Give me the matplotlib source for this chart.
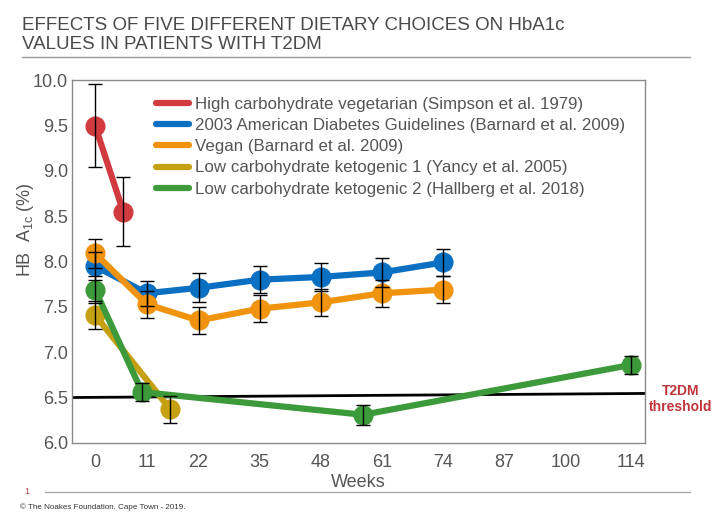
import matplotlib.pyplot as plt
import matplotlib.lines as mlines
import numpy as np

plt.rcParams['font.family'] = ['Liberation Sans', 'DejaVu Sans']

# series: weeks, HbA1c (%), error
veg_weeks = [0, 6]
veg_vals = [9.50, 8.55]
veg_err = [0.46, 0.38]

ada_weeks = [0, 11, 22, 35, 48, 61, 74]
ada_vals = [7.95, 7.65, 7.71, 7.80, 7.83, 7.88, 7.99]
ada_err = [0.15, 0.14, 0.16, 0.15, 0.15, 0.16, 0.15]

vegan_weeks = [0, 11, 22, 35, 48, 61, 74]
vegan_vals = [8.09, 7.53, 7.35, 7.48, 7.55, 7.65, 7.69]
vegan_err = [0.16, 0.15, 0.15, 0.15, 0.15, 0.15, 0.15]

keto1_weeks = [0, 16]
keto1_vals = [7.41, 6.37]
keto1_err = [0.15, 0.15]

keto2_weeks = [0, 10, 57, 114]
keto2_vals = [7.69, 6.56, 6.31, 6.86]
keto2_err = [0.15, 0.10, 0.11, 0.10]

labels = ['High carbohydrate vegetarian (Simpson et al. 1979)',
          '2003 American Diabetes Guidelines (Barnard et al. 2009)',
          'Vegan (Barnard et al. 2009)',
          'Low carbohydrate ketogenic 1 (Yancy et al. 2005)',
          'Low carbohydrate ketogenic 2 (Hallberg et al. 2018)']
colors = ['#d13b40', '#0b6fc2', '#f0930f', '#c4a012', '#3d9a3a']

xticks = [0, 11, 22, 35, 48, 61, 74, 87, 100, 114]
threshold = [6.50, 6.545]

grey = '#555555'

fig = plt.figure(figsize=(7.13, 5.21), dpi=100)
ax = fig.add_axes([0.101, 0.150, 0.804, 0.696])

series = [(veg_weeks, veg_vals, veg_err), (ada_weeks, ada_vals, ada_err),
          (vegan_weeks, vegan_vals, vegan_err), (keto1_weeks, keto1_vals, keto1_err),
          (keto2_weeks, keto2_vals, keto2_err)]

xmin, xmax = -4.9, 117
ax.plot([xmin, xmax], threshold, color='black', lw=2, zorder=1)

for (w, v, e), c in zip(series, colors):
    ax.plot(w, v, color=c, lw=4.5, marker='o', markersize=13.5, zorder=2)
    ax.errorbar(w, v, yerr=e, fmt='none', ecolor='black', elinewidth=1,
                capsize=5, capthick=1, zorder=3)

ax.set_xlim(xmin, xmax)
ax.set_ylim(6.0, 10.0)
ax.set_xticks(xticks)
ax.set_yticks(np.arange(6.0, 10.01, 0.5))
ax.set_yticklabels(['%.1f' % t for t in np.arange(6.0, 10.01, 0.5)])
ax.tick_params(length=0, labelsize=13, colors=grey)
ax.tick_params(axis='x', pad=8)
ax.tick_params(axis='y', pad=3)
for s in ax.spines.values():
    s.set_color('#8a8a8a')
    s.set_linewidth(1)

ax.set_xlabel('Weeks', fontsize=13, color=grey, labelpad=2)
ax.set_ylabel(r'HB  A$_{\mathregular{1c}}$ (%)', fontsize=13, color=grey, labelpad=1)
ax.yaxis.set_label_coords(-0.062, 0.587)

handles = [mlines.Line2D([], [], color=c, lw=4.5, solid_capstyle='round') for c in colors]
leg = ax.legend(handles, labels, loc='upper left', bbox_to_anchor=(0.135, 0.972),
                frameon=False, fontsize=12.2, handlelength=1.95, handletextpad=0.35,
                labelspacing=0.36, borderaxespad=0)
for t in leg.get_texts():
    t.set_color(grey)

fig.text(0.955, 0.234, 'T2DM\nthreshold', color='#c0343c', fontsize=10,
         fontweight='bold', ha='center', va='center', linespacing=1.2)

fig.text(0.031, 0.967, 'EFFECTS OF FIVE DIFFERENT DIETARY CHOICES ON HbA1c\nVALUES IN PATIENTS WITH T2DM',
         fontsize=13.5, color='#4a4a4a', ha='left', va='top', linespacing=1.15)
fig.add_artist(mlines.Line2D([0.031, 0.968], [0.891, 0.891], color='#999999', lw=1))
fig.add_artist(mlines.Line2D([0.063, 0.968], [0.056, 0.056], color='#aaaaaa', lw=1))
fig.text(0.038, 0.056, '1', fontsize=6.5, color='#b04040', ha='center', va='center')
fig.text(0.028, 0.027, '\u00a9 The Noakes Foundation. Cape Town - 2019.', fontsize=5.8,
         color='#333333', ha='left', va='center')

fig.savefig('out.png', dpi=100)
